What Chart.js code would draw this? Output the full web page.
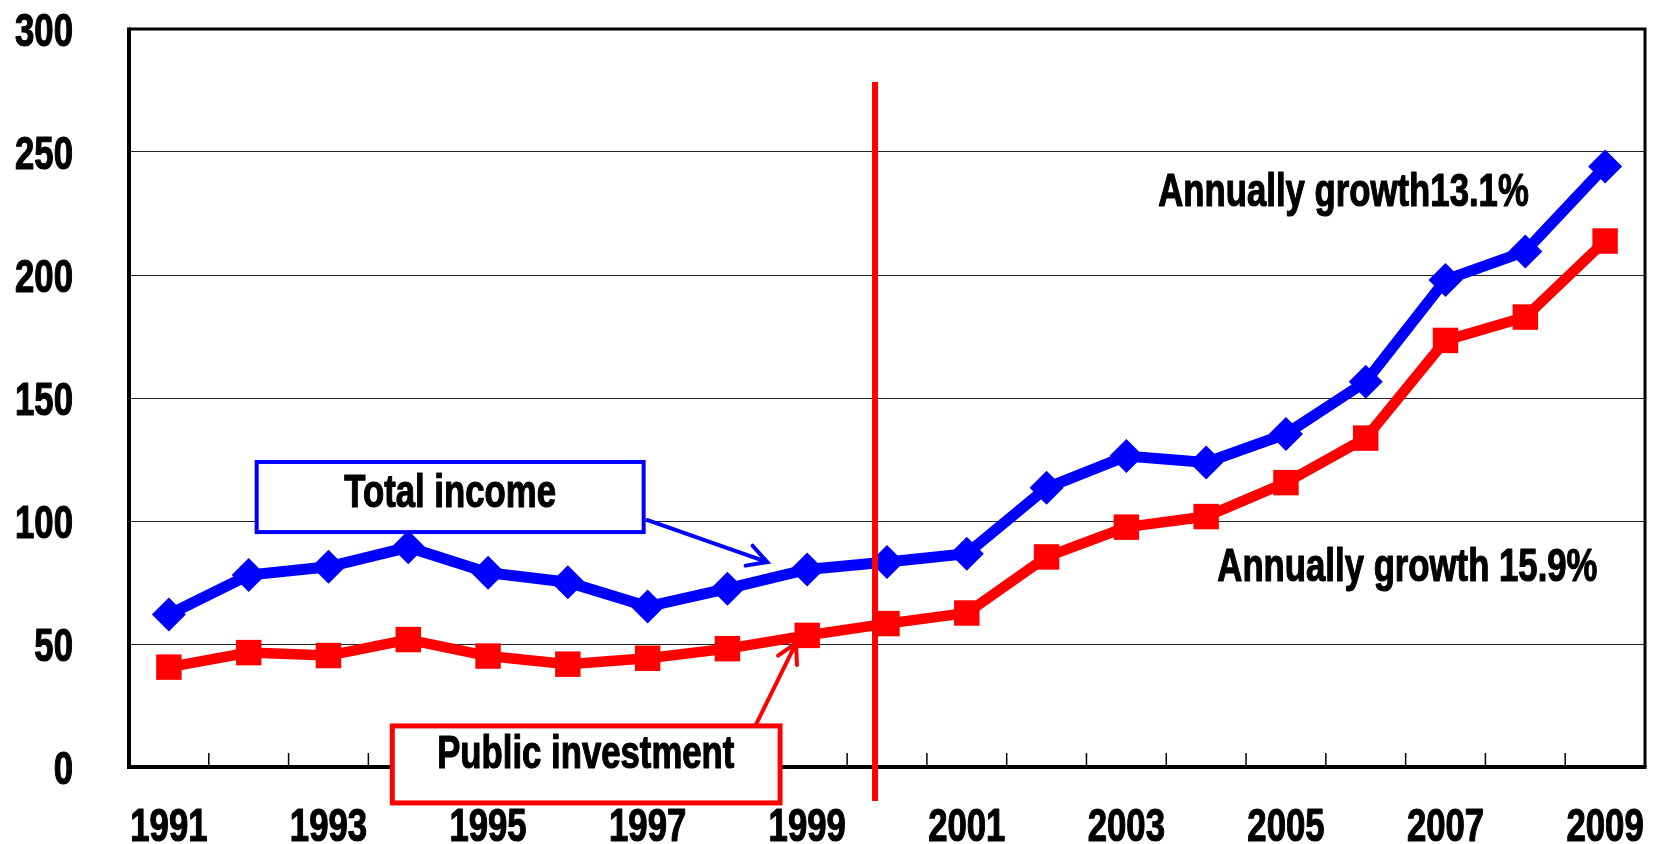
<!DOCTYPE html>
<html>
<head>
<meta charset="utf-8">
<title>Total income and public investment 1991-2009</title>
<script src="https://cdn.jsdelivr.net/npm/chart.js@4"></script>
<style>
    body { margin: 0; background: #fff; }
    #chart { display: block; }
</style>
</head>
<body>
<canvas id="chart" width="1663" height="844"></canvas>
<script>
// Data
const years = ['1991', '1992', '1993', '1994', '1995', '1996', '1997', '1998', '1999', '2000',
               '2001', '2002', '2003', '2004', '2005', '2006', '2007', '2008', '2009'];
const totalIncome = [62, 78, 81.4, 89.3, 79, 75.1, 65.2, 72.5, 80.3, 83.3,
                     86.7, 113.5, 126.4, 123.8, 135.4, 156.6, 198, 209.6, 244.1];
const publicInvestment = [40.6, 46.5, 45.3, 51.8, 45.1, 41.8, 44.2, 48.1, 53.5, 58.3,
                          62.6, 85.4, 97.5, 101.8, 115.6, 133.7, 173.4, 182.9, 213.8];
const yTicks = [0, 50, 100, 150, 200, 250, 300];

// No narrow font installed, so squeeze a bold sans sideways
const FONT = "'Liberation Sans', Arial, sans-serif";
const SQUEEZE = 0.755;

function narrowText(ctx, text, x, y, align) {
    ctx.save();
    ctx.translate(x, y);
    ctx.scale(SQUEEZE, 1);
    ctx.font = 'bold 46px ' + FONT;
    ctx.fillStyle = '#000';
    ctx.strokeStyle = '#000';
    ctx.lineWidth = 1.2;
    ctx.lineJoin = 'round';
    ctx.textAlign = align;
    ctx.textBaseline = 'alphabetic';
    ctx.fillText(text, 0, 0);
    ctx.strokeText(text, 0, 0);  // a bit heavier, like the original
    ctx.restore();
}

// Frame round the plot, inner ticks on the x axis, and the tick labels
const framePlugin = {
    id: 'frame',
    afterDatasetsDraw(chart) {
        const ctx = chart.ctx;
        const a = chart.chartArea;
        const xs = chart.scales.x;
        const ys = chart.scales.y;
        ctx.save();
        ctx.strokeStyle = '#000';
        // inner ticks between categories
        ctx.lineWidth = 1.5;
        for (let k = 1; k < years.length; k++) {
            const x = (xs.getPixelForValue(k - 1) + xs.getPixelForValue(k)) / 2;
            ctx.beginPath();
            ctx.moveTo(x, a.bottom);
            ctx.lineTo(x, a.bottom - 14);
            ctx.stroke();
        }
        // top and right
        ctx.lineWidth = 3;
        ctx.beginPath();
        ctx.moveTo(a.left, a.top);
        ctx.lineTo(a.right, a.top);
        ctx.lineTo(a.right, a.bottom);
        ctx.stroke();
        // left and bottom axis
        ctx.lineWidth = 4;
        ctx.beginPath();
        ctx.moveTo(a.left, a.top - 1.5);
        ctx.lineTo(a.left, a.bottom);
        ctx.lineTo(a.right + 1.5, a.bottom);
        ctx.stroke();
        ctx.restore();

        // y labels
        ys.ticks.forEach(t => {
            narrowText(ctx, String(t.value), a.left - 56, ys.getPixelForValue(t.value) + 16.5, 'right');
        });
        // x labels, every other year
        years.forEach((y, i) => {
            if (i % 2 === 0) {
                narrowText(ctx, y, xs.getPixelForValue(i), a.bottom + 74, 'center');
            }
        });
    }
};

// Helpers for the notes, placed in data units
function px(chart, i) { return chart.scales.x.getPixelForValue(i); }
function py(chart, v) { return chart.scales.y.getPixelForValue(v); }

function drawArrow(ctx, x1, y1, x2, y2, color, width) {
    const ang = Math.atan2(y2 - y1, x2 - x1);
    const len = 22;
    ctx.strokeStyle = color;
    ctx.lineWidth = width;
    ctx.lineCap = 'round';
    ctx.beginPath();
    ctx.moveTo(x1, y1);
    ctx.lineTo(x2, y2);
    ctx.moveTo(x2 - len * Math.cos(ang - 0.5), y2 - len * Math.sin(ang - 0.5));
    ctx.lineTo(x2, y2);
    ctx.lineTo(x2 - len * Math.cos(ang + 0.5), y2 - len * Math.sin(ang + 0.5));
    ctx.stroke();
}

function drawBox(chart, x1, x2, v1, v2, color, width, text, tx, tv) {
    const ctx = chart.ctx;
    const l = px(chart, x1), r = px(chart, x2);
    const t = py(chart, v1), b = py(chart, v2);
    ctx.fillStyle = '#fff';
    ctx.fillRect(l, t, r - l, b - t);
    ctx.strokeStyle = color;
    ctx.lineWidth = width;
    ctx.strokeRect(l, t, r - l, b - t);
    narrowText(ctx, text, px(chart, tx), py(chart, tv), 'center');
}

const notesPlugin = {
    id: 'notes',
    afterDraw(chart) {
        const ctx = chart.ctx;
        ctx.save();

        // vertical red line at 2000
        ctx.strokeStyle = '#ff0000';
        ctx.lineWidth = 6;
        ctx.beginPath();
        ctx.moveTo(px(chart, 8.85), py(chart, 278.5));
        ctx.lineTo(px(chart, 8.85), py(chart, -13.8));
        ctx.stroke();

        // arrows
        drawArrow(ctx, px(chart, 6.0), py(chart, 100.4), px(chart, 7.5), py(chart, 83.3), '#0000ff', 4);
        drawArrow(ctx, px(chart, 7.35), py(chart, 16.7), px(chart, 7.86), py(chart, 50.4), '#ff0000', 4);

        // label boxes
        drawBox(chart, 1.1, 5.95, 124, 95.5, '#0000ff', 4, 'Total income', 3.525, 105.7);
        drawBox(chart, 2.8, 7.66, 16.7, -14.6, '#ff0000', 5, 'Public investment', 5.225, -0.4);

        // growth notes
        narrowText(ctx, 'Annually growth13.1%', px(chart, 12.4), py(chart, 228), 'left');
        narrowText(ctx, 'Annually growth 15.9%', px(chart, 13.14), py(chart, 75.6), 'left');

        ctx.restore();
    }
};

window.onload = function() {
    const ctx = document.getElementById('chart').getContext('2d');
    new Chart(ctx, {
        type: 'line',
        data: {
            labels: years,
            datasets: [{
                label: 'Total income',
                data: totalIncome,
                borderColor: '#0000ff',
                backgroundColor: '#0000ff',
                borderWidth: 11,
                pointStyle: 'rectRot',
                pointRadius: 17,
                pointBorderWidth: 0,
                tension: 0
            }, {
                label: 'Public investment',
                data: publicInvestment,
                borderColor: '#ff0000',
                backgroundColor: '#ff0000',
                borderWidth: 10.5,
                pointStyle: 'rect',
                pointRadius: 18,
                pointBorderWidth: 0,
                tension: 0
            }]
        },
        options: {
            responsive: false,
            animation: false,
            layout: { padding: { top: 29, right: 14, left: 0, bottom: 0 } },
            plugins: {
                legend: { display: false },
                tooltip: { enabled: false }
            },
            scales: {
                x: {
                    offset: true,
                    grid: { display: false, drawTicks: false },
                    border: { display: false },
                    afterFit: function(scale) { scale.height = 77; },
                    ticks: { display: false, autoSkip: false }
                },
                y: {
                    min: yTicks[0],
                    max: yTicks[yTicks.length - 1],
                    grid: { color: '#222', lineWidth: 1, drawTicks: false },
                    border: { display: false },
                    afterFit: function(scale) { scale.width = 129; },
                    afterBuildTicks: function(scale) {
                        scale.ticks = yTicks.map(v => ({ value: v }));
                    },
                    ticks: { display: false }
                }
            }
        },
        plugins: [framePlugin, notesPlugin]
    });
};
</script>
</body>
</html>
